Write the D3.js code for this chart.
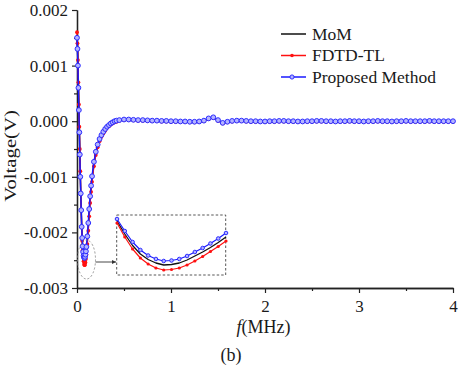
<!DOCTYPE html>
<html><head><meta charset="utf-8">
<script src="https://cdn.jsdelivr.net/npm/d3@7"></script>
<style>
html,body{margin:0;padding:0;background:#fff;}
svg{display:block;}
</style></head>
<body><svg id="chart" width="461" height="367"></svg>
<script>
// ---------- data ----------
const freq = [0,0.005,0.01,0.015,0.02,0.025,0.03,0.035,0.04,0.045,0.05,0.055,0.06,0.065,0.07,0.075,0.08,0.085,0.09,0.095,0.1,
  0.11,0.12,0.13,0.14,0.15,0.16,0.18,0.2,0.22,0.24,0.26,0.28,0.3,0.32,0.34,0.36,0.38,0.4,0.42,0.45,
  0.5,0.55,0.6,0.65,0.7,0.75,0.8,0.85,0.9,0.95,1.0,1.05,1.1,1.15,1.2,1.25,1.3,1.35,1.4,1.45,1.5,1.55,1.6,1.65,1.7,1.75,1.8,1.85,1.9,1.95,
  2.0,2.05,2.1,2.15,2.2,2.25,2.3,2.35,2.4,2.45,2.5,2.55,2.6,2.65,2.7,2.75,2.8,2.85,2.9,2.95,
  3.0,3.05,3.1,3.15,3.2,3.25,3.3,3.35,3.4,3.45,3.5,3.55,3.6,3.65,3.7,3.75,3.8,3.85,3.9,3.95,4.0];

const momV = [0.00155,0.00135,0.00105,0.00065,0.00025,-0.00015,-0.00055,-0.00095,-0.0013,-0.0016,-0.0019,-0.00213,-0.00229,-0.0024,-0.00247,-0.00251,-0.00252,-0.00251,-0.00247,-0.00241,-0.00233,
  -0.00214,-0.0019,-0.00164,-0.00141,-0.00121,-0.00104,-0.00077,-0.00058,-0.00044,-0.00034,-0.00026,-0.0002,-0.00015,-0.00011,-0.00008,-0.00005,-0.00003,-0.00001,0,0.000015,
  2.5e-5,2.5e-5,2e-5,1.5e-5,1.5e-5,1e-5,0.5e-5,0.5e-5,0,0,-0.5e-5,-0.5e-5,-1e-5,-1e-5,-1.5e-5,-1.5e-5,-1e-5,0.5e-5,4.5e-5,6.5e-5,1.5e-5,-3.5e-5,-1.5e-5,0,0.5e-5,0.5e-5,0,-0.5e-5,-0.5e-5,-1e-5,
  -1e-5,-0.5e-5,-0.5e-5,0,0,-0.5e-5,-0.5e-5,-1e-5,-1e-5,-0.5e-5,-0.5e-5,0,0,-0.5e-5,-0.5e-5,-1e-5,-0.5e-5,-0.5e-5,0,-0.5e-5,
  -0.5e-5,-1e-5,-0.5e-5,-0.5e-5,0,-0.5e-5,-0.5e-5,-1e-5,-0.5e-5,-0.5e-5,0,-0.5e-5,-0.5e-5,-0.5e-5,-0.5e-5,0,-0.5e-5,-0.5e-5,-0.5e-5,-0.5e-5,-0.5e-5];

const fdtdV = [0.0016,0.0014,0.0011,0.0007,0.0003,-0.0001,-0.0005,-0.0009,-0.0013,-0.0016,-0.0019,-0.00215,-0.00232,-0.00244,-0.00252,-0.00257,-0.00259,-0.00258,-0.00254,-0.00248,-0.0024,
  -0.00221,-0.00197,-0.00171,-0.00147,-0.00127,-0.00109,-0.00081,-0.00061,-0.00047,-0.00036,-0.00028,-0.00022,-0.00017,-0.00012,-0.00009,-0.00006,-0.00004,-0.00002,-0.00001,0.00001,
  2e-5,2e-5,1.5e-5,1e-5,1e-5,0.5e-5,0,0,-0.5e-5,-0.5e-5,-1e-5,-1e-5,-1.5e-5,-1.5e-5,-2e-5,-2e-5,-1.5e-5,0,4e-5,6e-5,1e-5,-4e-5,-2e-5,-0.5e-5,0,0,-0.5e-5,-1e-5,-1e-5,-1.5e-5,
  -1.5e-5,-1e-5,-1e-5,-0.5e-5,-0.5e-5,-1e-5,-1e-5,-1.5e-5,-1.5e-5,-1e-5,-1e-5,-0.5e-5,-0.5e-5,-1e-5,-1e-5,-1.5e-5,-1e-5,-1e-5,-0.5e-5,-1e-5,
  -1e-5,-1.5e-5,-1e-5,-1e-5,-0.5e-5,-1e-5,-1e-5,-1.5e-5,-1e-5,-1e-5,-0.5e-5,-1e-5,-1e-5,-1e-5,-1e-5,-0.5e-5,-1e-5,-1e-5,-1e-5,-1e-5,-1e-5];

const proposedV = [0.0015,0.0013,0.001,0.0006,0.0002,-0.0002,-0.0006,-0.001,-0.0013,-0.0016,-0.0019,-0.0021,-0.00225,-0.00235,-0.00242,-0.00245,-0.00246,-0.00244,-0.0024,-0.00234,-0.00226,
  -0.00207,-0.00183,-0.00158,-0.00135,-0.00116,-0.00099,-0.00073,-0.00055,-0.00042,-0.00032,-0.00025,-0.00019,-0.00014,-0.0001,-0.00007,-0.00004,-0.00002,0,0.00001,0.00002,
  3e-5,3e-5,2.5e-5,2e-5,2e-5,1.5e-5,1e-5,1e-5,0.5e-5,0.5e-5,0,0,-0.5e-5,-0.5e-5,-1e-5,-1e-5,-0.5e-5,1e-5,5e-5,7e-5,2e-5,-3e-5,-1e-5,0.5e-5,1e-5,1e-5,0.5e-5,0,0,-0.5e-5,
  -0.5e-5,0,0,0.5e-5,0.5e-5,0,0,-0.5e-5,-0.5e-5,0,0,0.5e-5,0.5e-5,0,0,-0.5e-5,0,0,0.5e-5,0,
  0,-0.5e-5,0,0,0.5e-5,0,0,-0.5e-5,0,0,0.5e-5,0,0,0,0,0.5e-5,0,0,0,0,0];

// inset (magnified view of the minimum)
const insetFreq = [0.055,0.06,0.065,0.07,0.075,0.08,0.085,0.09,0.095,0.1,0.105,0.11,0.115,0.12,0.125];
const insetMom = [-0.00216,-0.00229,-0.002405,-0.00249,-0.002545,-0.00258,-0.0026,-0.002595,-0.00258,-0.00255,-0.00251,-0.00247,-0.002425,-0.002375,-0.00232];
const insetFdtd = [-0.00218,-0.00232,-0.00244,-0.00253,-0.00259,-0.00263,-0.00265,-0.002645,-0.00263,-0.0026,-0.00256,-0.002515,-0.002465,-0.002415,-0.00236];
const insetProposed = [-0.00214,-0.00226,-0.00237,-0.00245,-0.002505,-0.00254,-0.00256,-0.002555,-0.00254,-0.00251,-0.00247,-0.00243,-0.002385,-0.002335,-0.00228];

const xTicks = [0,1,2,3,4];
const xTickLabels = ["0","1","2","3","4"];
const xMinorTicks = [0.5,1.5,2.5,3.5];
const yTicks = [0.002,0.001,0,-0.001,-0.002,-0.003];
const yTickLabels = ["0.002","0.001","0.000","-0.001","-0.002","-0.003"];
const yMinorTicks = [0.0015,0.0005,-0.0005,-0.0015,-0.0025];
const seriesNames = ["MoM","FDTD-TL","Proposed Method"];

// ---------- drawing ----------
const FONT = "'Liberation Serif','Times New Roman',serif";
const TXT = "#1a1a1a";
const svg = d3.select("#chart");
const x = d3.scaleLinear().domain([0,4]).range([77,453]);
const y = d3.scaleLinear().domain([-0.003,0.002]).range([288,10]);

const colMoM = "#111111", colFdtd = "#ff1010", colProp = "#1a1aff";

function styleAxis(g){
  g.selectAll("path.domain").attr("stroke","#222").attr("stroke-width",1.3);
  g.selectAll(".tick line").attr("stroke","#222").attr("stroke-width",1.2);
  g.selectAll("text").attr("font-family",FONT).attr("font-size",17).attr("fill",TXT);
}

// minor ticks
svg.append("g").attr("transform","translate(0,288)")
  .call(d3.axisBottom(x).tickValues(xMinorTicks).tickSize(3).tickSizeOuter(0).tickFormat(""))
  .call(styleAxis);
svg.append("g").attr("transform","translate(77,0)")
  .call(d3.axisLeft(y).tickValues(yMinorTicks).tickSize(3).tickSizeOuter(0).tickFormat(""))
  .call(styleAxis);
// major
svg.append("g").attr("transform","translate(0,288)")
  .call(d3.axisBottom(x).tickValues(xTicks).tickSize(5).tickSizeOuter(0).tickPadding(7)
    .tickFormat((d,i)=>xTickLabels[i]))
  .call(styleAxis);
svg.append("g").attr("transform","translate(77,0)")
  .call(d3.axisLeft(y).tickValues(yTicks).tickSize(5).tickSizeOuter(0).tickPadding(4)
    .tickFormat((d,i)=>yTickLabels[i]))
  .call(styleAxis);

// series
function drawSeries(g, fx, fy, fr, vals, color, width, marker, r){
  const pts = fr.map((f,i)=>[fx(f), fy(vals[i])]);
  g.append("path").attr("d", d3.line()(pts)).attr("fill","none")
    .attr("stroke",color).attr("stroke-width",width).attr("stroke-linejoin","round");
  if(marker==="dot"){
    g.selectAll(null).data(pts).join("circle").attr("cx",d=>d[0]).attr("cy",d=>d[1])
      .attr("r",r||1.8).attr("fill",color);
  } else if(marker==="open"){
    g.selectAll(null).data(pts).join("circle").attr("cx",d=>d[0]).attr("cy",d=>d[1])
      .attr("r",r||2.1).attr("fill","#b4b4ff").attr("stroke","#2c2cff").attr("stroke-width",1);
  }
}
const main = svg.append("g");
drawSeries(main, x, y, freq, momV, colMoM, 1.5, null);
drawSeries(main, x, y, freq, fdtdV, colFdtd, 1.3, "dot", 1.9);
drawSeries(main, x, y, freq, proposedV, colProp, 1.5, "open", 2.4);

// dashed ellipse + arrow
svg.append("ellipse").attr("cx",86.5).attr("cy",259.5).attr("rx",9).attr("ry",19.5)
  .attr("fill","none").attr("stroke","#888").attr("stroke-width",0.9).attr("stroke-dasharray","2,2");
svg.append("defs").append("marker").attr("id","ah").attr("viewBox","0 0 10 10")
  .attr("refX",10).attr("refY",5).attr("markerWidth",5).attr("markerHeight",5).attr("orient","auto")
  .append("path").attr("d","M0,0L10,5L0,10z").attr("fill","#333");
svg.append("line").attr("x1",95.5).attr("y1",262).attr("x2",116).attr("y2",262)
  .attr("stroke","#333").attr("stroke-width",0.9).attr("marker-end","url(#ah)");

// inset
const ix = d3.scaleLinear().domain([0.055,0.125]).range([117,226]);
const iy = d3.scaleLinear().domain([-0.0027,-0.0021]).range([275,215]);
svg.append("rect").attr("x",116.7).attr("y",215).attr("width",109).attr("height",60)
  .attr("fill","#fff").attr("stroke","#444").attr("stroke-width",0.9).attr("stroke-dasharray","2.5,2");
const inset = svg.append("g");
drawSeries(inset, ix, iy, insetFreq, insetMom, colMoM, 1.3, null);
drawSeries(inset, ix, iy, insetFreq, insetFdtd, colFdtd, 1.2, "dot", 1.6);
drawSeries(inset, ix, iy, insetFreq, insetProposed, colProp, 1.2, "open", 1.8);

// legend
const leg = svg.append("g");
const legY = [34, 55.5, 77];
const legBase = [39.5, 61, 83];
const legCols = [colMoM, colFdtd, colProp];
seriesNames.forEach((name,i)=>{
  leg.append("line").attr("x1",281).attr("x2",306).attr("y1",legY[i]).attr("y2",legY[i])
    .attr("stroke",legCols[i]).attr("stroke-width",1.5);
  if(i===1) leg.append("circle").attr("cx",292).attr("cy",legY[i]).attr("r",1.8).attr("fill",colFdtd);
  if(i===2) leg.append("circle").attr("cx",292).attr("cy",legY[i]).attr("r",2.1)
    .attr("fill","#b4b4ff").attr("stroke","#2c2cff").attr("stroke-width",1);
  leg.append("text").attr("x",312).attr("y",legBase[i]).text(name)
    .attr("font-family",FONT).attr("font-size",17.5).attr("fill",TXT);
});

// axis titles
svg.append("text").attr("transform","translate(16,156) rotate(-90) scale(1.22,1)").attr("text-anchor","middle")
  .attr("font-family",FONT).attr("font-size",17).attr("fill",TXT).text("Voltage(V)");
const xt = svg.append("text").attr("x",263.5).attr("y",333).attr("text-anchor","middle")
  .attr("font-family",FONT).attr("font-size",18).attr("fill",TXT);
xt.append("tspan").attr("font-style","italic").text("f");
xt.append("tspan").text("(MHz)");
svg.append("text").attr("x",231).attr("y",361).attr("text-anchor","middle")
  .attr("font-family",FONT).attr("font-size",18).attr("fill",TXT).text("(b)");
</script>
</body></html>
